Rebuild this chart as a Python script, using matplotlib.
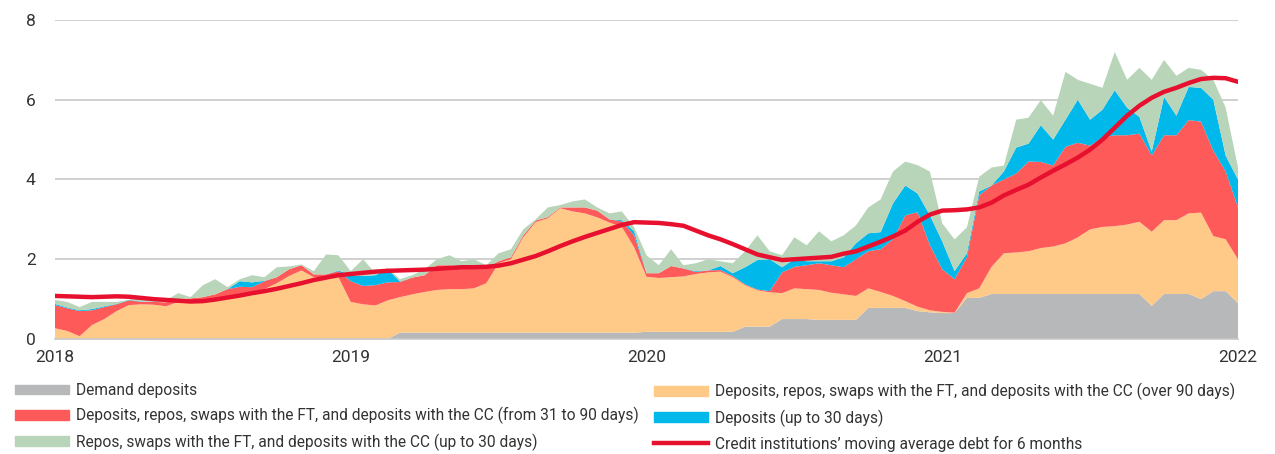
import numpy as np
import matplotlib
matplotlib.use("Agg")
import matplotlib.pyplot as plt
from matplotlib.patches import Patch
from matplotlib.lines import Line2D

plt.rcParams['font.family'] = ['Roboto', 'DejaVu Sans']

# semi-monthly points, 2018 -> 2022
years = 2018 + np.arange(97) / 24

# top of each stacked band (bn EUR)
top_demand = [0, 0, 0, 0, 0, 0, 0, 0, 0, 0, 0, 0,
              0, 0, 0, 0, 0, 0, 0, 0, 0, 0, 0, 0,
              0, 0, 0, 0, 0.16, 0.16, 0.16, 0.16, 0.16, 0.16, 0.16, 0.16,
              0.16, 0.16, 0.16, 0.16, 0.16, 0.16, 0.16, 0.16, 0.16, 0.16, 0.16, 0.16,
              0.18, 0.18, 0.18, 0.18, 0.18, 0.18, 0.18, 0.18, 0.31, 0.31, 0.31, 0.5,
              0.5, 0.5, 0.48, 0.48, 0.48, 0.48, 0.78, 0.78, 0.78, 0.78, 0.7, 0.67,
              0.65, 0.65, 1.03, 1.03, 1.13, 1.13, 1.13, 1.13, 1.13, 1.13, 1.13, 1.13,
              1.13, 1.13, 1.13, 1.13, 1.13, 0.83, 1.13, 1.13, 1.13, 1.0, 1.2, 1.2,
              0.9]
top_over90 = [0.27, 0.2, 0.07, 0.35, 0.5, 0.7, 0.85, 0.87, 0.86, 0.82, 0.93, 0.95,
              0.96, 1.0, 1.05, 1.1, 1.15, 1.25, 1.4, 1.58, 1.72, 1.55, 1.52, 1.55,
              0.93, 0.87, 0.84, 0.97, 1.05, 1.12, 1.18, 1.23, 1.25, 1.25, 1.27, 1.4,
              1.9, 2.0, 2.55, 2.93, 3.03, 3.28, 3.2, 3.15, 3.05, 2.92, 2.81, 2.3,
              1.56, 1.53, 1.55, 1.57, 1.63, 1.67, 1.69, 1.55, 1.35, 1.22, 1.17, 1.15,
              1.27, 1.25, 1.23, 1.16, 1.12, 1.08, 1.27, 1.18, 1.08, 0.95, 0.81, 0.72,
              0.68, 0.66, 1.15, 1.27, 1.81, 2.15, 2.17, 2.2, 2.28, 2.32, 2.4, 2.55,
              2.75, 2.81, 2.83, 2.87, 2.94, 2.69, 2.98, 2.98, 3.15, 3.17, 2.58, 2.5,
              2.0]
top_31to90 = [0.85, 0.77, 0.7, 0.72, 0.8, 0.87, 0.97, 0.93, 0.93, 0.92, 1.0, 1.02,
              1.05, 1.12, 1.25, 1.31, 1.3, 1.45, 1.55, 1.75, 1.85, 1.62, 1.62, 1.7,
              1.45, 1.33, 1.35, 1.42, 1.43, 1.54, 1.6, 1.85, 1.85, 1.82, 1.83, 1.78,
              1.95, 2.05, 2.6, 2.97, 3.06, 3.3, 3.3, 3.3, 3.22, 3.0, 2.95, 2.6,
              1.65, 1.65, 1.83, 1.77, 1.68, 1.72, 1.73, 1.58, 1.37, 1.24, 1.2, 1.67,
              1.81, 1.85, 1.9, 1.85, 1.8, 2.0, 2.2, 2.25, 2.5, 3.1, 3.18, 2.35,
              1.75, 1.5, 2.05, 3.6, 3.85, 4.0, 4.15, 4.45, 4.44, 4.35, 4.82, 4.92,
              4.85, 5.05, 5.11, 5.11, 5.15, 4.6, 5.11, 5.11, 5.49, 5.45, 4.72, 4.2,
              3.3]
top_dep30 = [0.88, 0.79, 0.72, 0.75, 0.82, 0.88, 0.98, 0.94, 0.93, 0.92, 1.0, 1.02,
             1.05, 1.12, 1.25, 1.45, 1.42, 1.46, 1.55, 1.75, 1.85, 1.62, 1.62, 1.72,
             1.6, 1.58, 1.6, 1.75, 1.44, 1.54, 1.6, 1.85, 1.85, 1.82, 1.83, 1.78,
             1.95, 2.05, 2.6, 2.97, 3.06, 3.3, 3.3, 3.3, 3.22, 3.0, 2.98, 2.7,
             1.65, 1.65, 1.83, 1.77, 1.7, 1.72, 1.83, 1.65, 1.8, 1.98, 2.0, 1.8,
             2.0, 1.95, 1.95, 1.95, 2.05, 2.4, 2.65, 2.68, 3.4, 3.85, 3.65, 3.1,
             2.45, 1.7, 2.15, 3.7, 3.85, 4.2, 4.8, 4.9, 5.36, 5.0, 5.5, 6.0,
             5.5, 5.75, 6.24, 5.8, 5.57, 4.7, 6.07, 5.6, 6.32, 6.3, 6.0, 4.6,
             4.0]
top_repos30 = [0.98, 0.93, 0.8, 0.93, 0.93, 0.93, 0.98, 1.08, 0.98, 0.97, 1.15, 1.05,
               1.35, 1.5, 1.3, 1.5, 1.6, 1.55, 1.8, 1.82, 1.87, 1.7, 2.12, 2.1,
               1.7, 2.0, 1.65, 1.78, 1.5, 1.6, 1.75, 2.0, 2.1, 1.95, 2.0, 1.85,
               2.15, 2.25, 2.75, 3.0, 3.3, 3.36, 3.45, 3.5, 3.3, 3.15, 3.2, 2.8,
               2.1, 1.85, 2.25, 1.85, 1.9, 2.0, 1.95, 1.9, 2.2, 2.6, 2.2, 2.1,
               2.55, 2.35, 2.7, 2.45, 2.6, 2.85, 3.3, 3.5, 4.2, 4.45, 4.36, 4.2,
               2.9, 2.5, 2.8, 4.07, 4.3, 4.35, 5.5, 5.55, 5.99, 5.6, 6.7, 6.5,
               6.4, 6.3, 7.2, 6.5, 6.8, 6.5, 7.0, 6.6, 6.8, 6.75, 6.5, 5.8,
               4.3]
moving_avg = [1.08, 1.07, 1.06, 1.05, 1.06, 1.07, 1.06, 1.03, 1.0, 0.98, 0.96, 0.94,
              0.95, 0.99, 1.04, 1.09, 1.15, 1.2, 1.26, 1.33, 1.4, 1.48, 1.54, 1.6,
              1.63, 1.66, 1.69, 1.71, 1.72, 1.73, 1.74, 1.76, 1.78, 1.8, 1.8, 1.81,
              1.84, 1.9, 1.99, 2.08, 2.2, 2.33, 2.45, 2.56, 2.66, 2.76, 2.86, 2.93,
              2.92, 2.91, 2.88, 2.84, 2.72, 2.6, 2.5, 2.38, 2.25, 2.12, 2.05, 1.98,
              2.0, 2.02, 2.04, 2.06, 2.14, 2.2, 2.32, 2.44, 2.57, 2.72, 2.94, 3.12,
              3.22, 3.23, 3.25, 3.3, 3.42, 3.6, 3.74, 3.87, 4.05, 4.22, 4.38, 4.55,
              4.75, 5.0, 5.3, 5.6, 5.85, 6.05, 6.2, 6.3, 6.42, 6.52, 6.55, 6.54,
              6.45]

labels = ["Demand deposits",
          "Deposits, repos, swaps with the FT, and deposits with the CC (over 90 days)",
          "Deposits, repos, swaps with the FT, and deposits with the CC (from 31 to 90 days)",
          "Deposits (up to 30 days)",
          "Repos, swaps with the FT, and deposits with the CC (up to 30 days)"]
line_label = "Credit institutions\u2019 moving average debt for 6 months"
colors = ["#B7B8BA", "#FFCA88", "#FF5A5A", "#00B8EA", "#B8D5B9"]
line_color = "#E8102F"

# stack tops -> individual series
tops = np.maximum.accumulate(np.array([top_demand, top_over90, top_31to90,
                                       top_dep30, top_repos30]), axis=0)
series = np.diff(np.vstack([np.zeros(len(years)), tops]), axis=0)

fig = plt.figure(figsize=(12.75, 4.54), dpi=100)
ax = fig.add_axes([55 / 1275, 115 / 454, 1183 / 1275, 319 / 454])

ax.stackplot(years, series, colors=colors, linewidth=0)
ax.plot(years, moving_avg, color=line_color, lw=3.2, solid_capstyle='round', zorder=5)

ax.set_xlim(2018, 2022)
ax.set_ylim(0, 8)
ax.set_yticks([0, 2, 4, 6, 8])
ax.set_xticks([2018, 2019, 2020, 2021, 2022])
ax.set_xticklabels(["2018", "2019", "2020", "2021", "2022"])
ax.grid(axis='y', color='#C8C8C8', lw=1.2)
ax.set_axisbelow(True)
for s in ['top', 'right', 'left']:
    ax.spines[s].set_visible(False)
ax.spines['bottom'].set_color('#C8C8C8')
ax.spines['bottom'].set_linewidth(1.2)
ax.tick_params(length=0, labelsize=12.5, colors='#333333')
ax.tick_params(axis='y', pad=14)
ax.tick_params(axis='x', pad=8)

# legend in two columns
h = [Patch(color=c) for c in colors]
line_h = Line2D([], [], color=line_color, lw=3.2)
kw = dict(frameon=False, fontsize=11.2, handlelength=3.5, handleheight=0.6,
          labelspacing=0.58, handletextpad=0.4, labelcolor='#333333',
          borderaxespad=0, borderpad=0)
leg1 = fig.legend([h[0], h[2], h[4]], [labels[0], labels[2], labels[4]],
                  loc='upper left', bbox_to_anchor=(15 / 1275, 1 - 383 / 454), **kw)
leg2 = fig.legend([h[1], h[3], line_h], [labels[1], labels[3], line_label],
                  loc='upper left', bbox_to_anchor=(654 / 1275, 1 - 383 / 454), **kw)

fig.savefig("out.png", dpi=100)
